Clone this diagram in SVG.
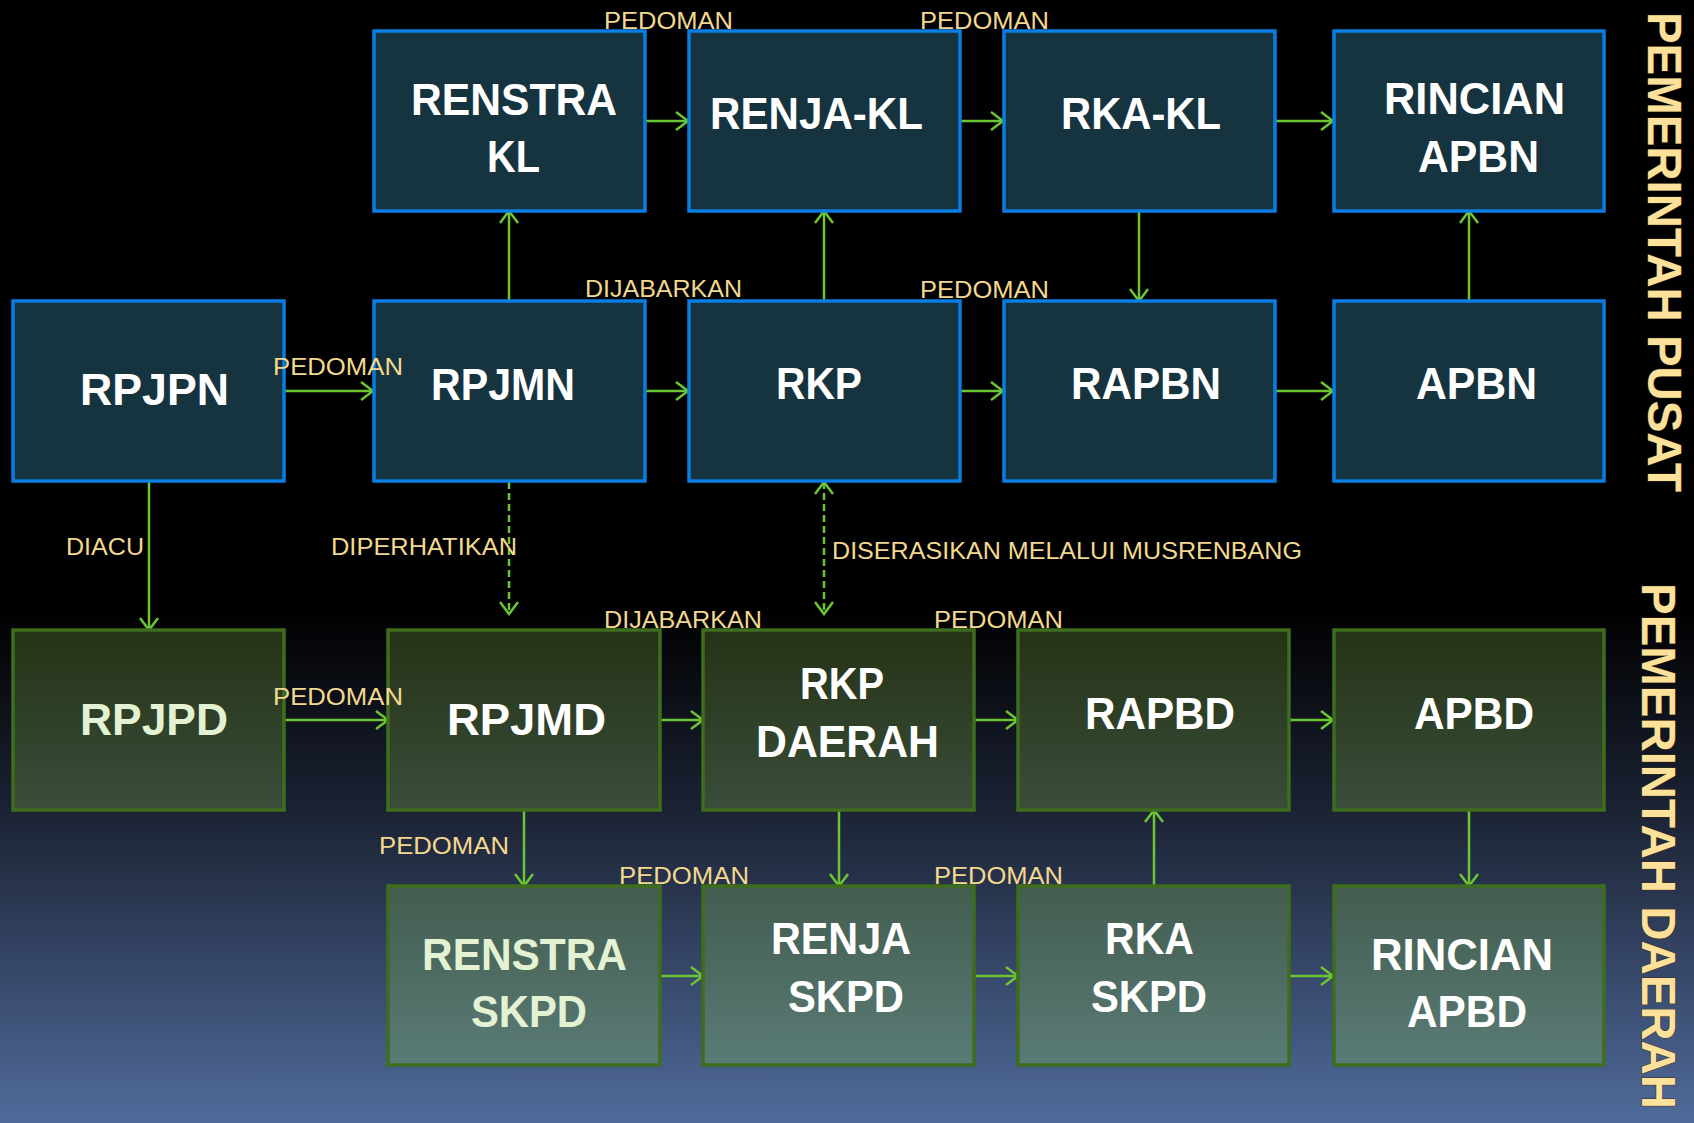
<svg xmlns="http://www.w3.org/2000/svg" width="1694" height="1123" viewBox="0 0 1694 1123">
<defs>
<linearGradient id="bg" x1="0" y1="0" x2="0" y2="1">
<stop offset="0" stop-color="#000"/>
<stop offset="0.54" stop-color="#000"/>
<stop offset="0.72" stop-color="#1b2233"/>
<stop offset="1" stop-color="#506b9b"/>
</linearGradient>
<linearGradient id="g2" x1="0" y1="0" x2="0" y2="1">
<stop offset="0" stop-color="#253216"/>
<stop offset="1" stop-color="#3a4e3a"/>
</linearGradient>
<linearGradient id="g3" x1="0" y1="0" x2="0" y2="1">
<stop offset="0" stop-color="#435d4f"/>
<stop offset="1" stop-color="#5a7b76"/>
</linearGradient>
<marker id="ah" viewBox="-14 -10 16 20" refX="0" refY="0" markerWidth="16" markerHeight="20" markerUnits="userSpaceOnUse" orient="auto-start-reverse">
<path d="M-12,-9 L0,0 L-12,9" fill="none" stroke="#6cc633" stroke-width="2.5"/>
</marker>
<style>
.c{fill:#163340;stroke:#0a7de2;stroke-width:3.5}
.d{fill:url(#g2);stroke:#3e6e1d;stroke-width:3.5}
.e{fill:url(#g3);stroke:#3e6e1d;stroke-width:3.5}
.t{font-family:"Liberation Sans",Arial,sans-serif;font-weight:bold;font-size:44px;fill:#fff}
.lg{fill:#e4f2d4}
.l{font-family:"Liberation Sans",Arial,sans-serif;font-size:24px;fill:#f3d88f}
.v{font-family:"Liberation Sans",Arial,sans-serif;font-weight:bold;font-size:48px;fill:#fde09a;stroke:#3a2e18;stroke-width:1;paint-order:stroke}
.a{fill:none;stroke:#6cc633;stroke-width:2.5;marker-end:url(#ah)}
.ds{stroke-dasharray:7 4}
.b{marker-start:url(#ah)}
</style>
</defs>
<rect x="0" y="0" width="1694" height="1123" fill="url(#bg)"/>

<g id="connectors">
<line class="a" x1="645" y1="121" x2="688" y2="121"/>
<line class="a" x1="960" y1="121" x2="1003" y2="121"/>
<line class="a" x1="1275" y1="121" x2="1333" y2="121"/>
<line class="a" x1="284" y1="391" x2="373" y2="391"/>
<line class="a" x1="645" y1="391" x2="688" y2="391"/>
<line class="a" x1="960" y1="391" x2="1003" y2="391"/>
<line class="a" x1="1275" y1="391" x2="1333" y2="391"/>
<line class="a" x1="284" y1="720" x2="388" y2="720"/>
<line class="a" x1="660" y1="720" x2="703" y2="720"/>
<line class="a" x1="974" y1="720" x2="1018" y2="720"/>
<line class="a" x1="1289" y1="720" x2="1333" y2="720"/>
<line class="a" x1="660" y1="976" x2="703" y2="976"/>
<line class="a" x1="974" y1="976" x2="1018" y2="976"/>
<line class="a" x1="1289" y1="976" x2="1333" y2="976"/>
<line class="a" x1="509" y1="301" x2="509" y2="211"/>
<line class="a" x1="824" y1="301" x2="824" y2="211"/>
<line class="a" x1="1139" y1="211" x2="1139" y2="301"/>
<line class="a" x1="1469" y1="301" x2="1469" y2="211"/>
<line class="a" x1="149" y1="481" x2="149" y2="630"/>
<line class="a ds" x1="509" y1="482" x2="509" y2="614"/>
<line class="a ds b" x1="824" y1="482" x2="824" y2="614"/>
<line class="a" x1="524" y1="810" x2="524" y2="886"/>
<line class="a" x1="839" y1="810" x2="839" y2="886"/>
<line class="a" x1="1154" y1="886" x2="1154" y2="810"/>
<line class="a" x1="1469" y1="810" x2="1469" y2="886"/>
</g>

<g id="renstra-kl"><rect class="c" x="374" y="31" width="271" height="180"/>
<text class="t" x="411" y="115" textLength="206" lengthAdjust="spacingAndGlyphs">RENSTRA</text>
<text class="t" x="487" y="172" textLength="53" lengthAdjust="spacingAndGlyphs">KL</text></g>
<g id="renja-kl"><rect class="c" x="689" y="31" width="271" height="180"/>
<text class="t" x="710" y="129" textLength="213" lengthAdjust="spacingAndGlyphs">RENJA-KL</text></g>
<g id="rka-kl"><rect class="c" x="1004" y="31" width="271" height="180"/>
<text class="t" x="1061" y="129" textLength="160" lengthAdjust="spacingAndGlyphs">RKA-KL</text></g>
<g id="rincian-apbn"><rect class="c" x="1334" y="31" width="270" height="180"/>
<text class="t" x="1384" y="114" textLength="181" lengthAdjust="spacingAndGlyphs">RINCIAN</text>
<text class="t" x="1418" y="172" textLength="121" lengthAdjust="spacingAndGlyphs">APBN</text></g>

<g id="rpjpn"><rect class="c" x="13" y="301" width="271" height="180"/>
<text class="t" x="80" y="405" font-size="47" textLength="149" lengthAdjust="spacingAndGlyphs">RPJPN</text></g>
<g id="rpjmn"><rect class="c" x="374" y="301" width="271" height="180"/>
<text class="t" x="431" y="400" textLength="144" lengthAdjust="spacingAndGlyphs">RPJMN</text></g>
<g id="rkp"><rect class="c" x="689" y="301" width="271" height="180"/>
<text class="t" x="776" y="399" textLength="86" lengthAdjust="spacingAndGlyphs">RKP</text></g>
<g id="rapbn"><rect class="c" x="1004" y="301" width="271" height="180"/>
<text class="t" x="1071" y="399" textLength="150" lengthAdjust="spacingAndGlyphs">RAPBN</text></g>
<g id="apbn"><rect class="c" x="1334" y="301" width="270" height="180"/>
<text class="t" x="1416" y="399" textLength="121" lengthAdjust="spacingAndGlyphs">APBN</text></g>

<g id="rpjpd"><rect class="d" x="13" y="630" width="271" height="180"/>
<text class="t lg" x="80" y="735" font-size="47" textLength="148" lengthAdjust="spacingAndGlyphs">RPJPD</text></g>
<g id="rpjmd"><rect class="d" x="388" y="630" width="272" height="180"/>
<text class="t" x="447" y="735" font-size="47" textLength="159" lengthAdjust="spacingAndGlyphs">RPJMD</text></g>
<g id="rkp-daerah"><rect class="d" x="703" y="630" width="271" height="180"/>
<text class="t" x="800" y="699" textLength="84" lengthAdjust="spacingAndGlyphs">RKP</text>
<text class="t" x="756" y="757" textLength="183" lengthAdjust="spacingAndGlyphs">DAERAH</text></g>
<g id="rapbd"><rect class="d" x="1018" y="630" width="271" height="180"/>
<text class="t" x="1085" y="729" textLength="150" lengthAdjust="spacingAndGlyphs">RAPBD</text></g>
<g id="apbd"><rect class="d" x="1334" y="630" width="270" height="180"/>
<text class="t" x="1414" y="729" textLength="120" lengthAdjust="spacingAndGlyphs">APBD</text></g>

<g id="renstra-skpd"><rect class="e" x="388" y="886" width="272" height="179"/>
<text class="t lg" x="422" y="970" textLength="205" lengthAdjust="spacingAndGlyphs">RENSTRA</text>
<text class="t lg" x="471" y="1027" textLength="116" lengthAdjust="spacingAndGlyphs">SKPD</text></g>
<g id="renja-skpd"><rect class="e" x="703" y="886" width="271" height="179"/>
<text class="t" x="771" y="954" textLength="140" lengthAdjust="spacingAndGlyphs">RENJA</text>
<text class="t" x="788" y="1012" textLength="116" lengthAdjust="spacingAndGlyphs">SKPD</text></g>
<g id="rka-skpd"><rect class="e" x="1018" y="886" width="271" height="179"/>
<text class="t" x="1105" y="954" textLength="89" lengthAdjust="spacingAndGlyphs">RKA</text>
<text class="t" x="1091" y="1012" textLength="116" lengthAdjust="spacingAndGlyphs">SKPD</text></g>
<g id="rincian-apbd"><rect class="e" x="1334" y="886" width="270" height="179"/>
<text class="t" x="1371" y="970" textLength="182" lengthAdjust="spacingAndGlyphs">RINCIAN</text>
<text class="t" x="1407" y="1027" textLength="120" lengthAdjust="spacingAndGlyphs">APBD</text></g>

<g id="labels">
<text class="l" x="604" y="29" textLength="129" lengthAdjust="spacingAndGlyphs">PEDOMAN</text>
<text class="l" x="920" y="29" textLength="129" lengthAdjust="spacingAndGlyphs">PEDOMAN</text>
<text class="l" x="585" y="297" textLength="157" lengthAdjust="spacingAndGlyphs">DIJABARKAN</text>
<text class="l" x="920" y="298" textLength="129" lengthAdjust="spacingAndGlyphs">PEDOMAN</text>
<text class="l" x="273" y="375" textLength="130" lengthAdjust="spacingAndGlyphs">PEDOMAN</text>
<text class="l" x="66" y="555" textLength="78" lengthAdjust="spacingAndGlyphs">DIACU</text>
<text class="l" x="331" y="555" textLength="186" lengthAdjust="spacingAndGlyphs">DIPERHATIKAN</text>
<text class="l" x="832" y="559" textLength="470" lengthAdjust="spacingAndGlyphs">DISERASIKAN MELALUI MUSRENBANG</text>
<text class="l" x="604" y="628" textLength="158" lengthAdjust="spacingAndGlyphs">DIJABARKAN</text>
<text class="l" x="934" y="628" textLength="129" lengthAdjust="spacingAndGlyphs">PEDOMAN</text>
<text class="l" x="273" y="705" textLength="130" lengthAdjust="spacingAndGlyphs">PEDOMAN</text>
<text class="l" x="379" y="854" textLength="130" lengthAdjust="spacingAndGlyphs">PEDOMAN</text>
<text class="l" x="619" y="884" textLength="130" lengthAdjust="spacingAndGlyphs">PEDOMAN</text>
<text class="l" x="934" y="884" textLength="129" lengthAdjust="spacingAndGlyphs">PEDOMAN</text>
</g>

<g id="side-labels">
<text class="v" transform="translate(1648,12) rotate(90)" x="0" y="0" textLength="480" lengthAdjust="spacingAndGlyphs">PEMERINTAH PUSAT</text>
<text class="v" transform="translate(1642,583) rotate(90)" x="0" y="0" textLength="526" lengthAdjust="spacingAndGlyphs">PEMERINTAH DAERAH</text>
</g>
</svg>
